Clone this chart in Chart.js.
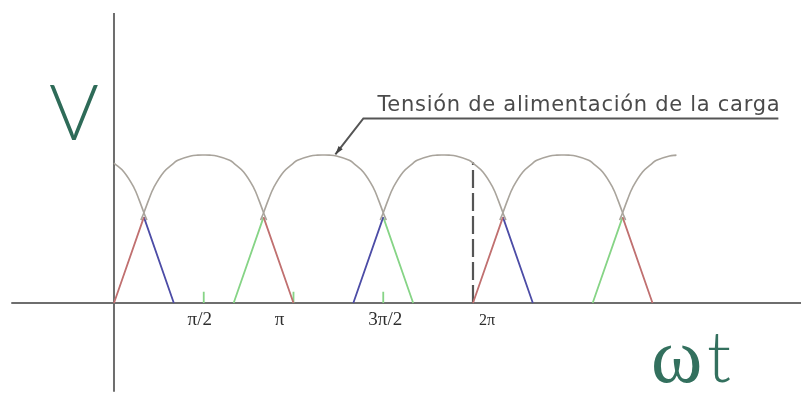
<!DOCTYPE html>
<html>
<head>
<meta charset="utf-8">
<script src="https://cdn.jsdelivr.net/npm/chart.js@4/dist/chart.umd.min.js"></script>
<style>
  html, body { margin: 0; padding: 0; background: #ffffff; }
  #wrap { width: 801px; height: 394px; }
</style>
</head>
<body>
<div id="wrap"><canvas id="c" width="801" height="394"></canvas></div>
<script>
// Angle axis in degrees (ωt), voltage normalised to the peak value.

// Supply arches (load supply voltage): centre of each arch and the span drawn.
const archCentres = [-30, 90, 210, 330, 450, 570];
const archFrom    = [0, 27, 147, 267, 387, 507];
const archTo      = [33, 153, 273, 393, 513, 564];
// Arch outline: offsets from the centre (deg) and level (fraction of peak).
const archOffsets = [-63, -60, -55, -50, -40, -30, -26, -13, -6, 0, 6, 13, 26, 30, 40, 50, 55, 60, 63];
const archLevels  = [0.56, 0.61, 0.70, 0.78, 0.885, 0.945, 0.965, 0.993, 0.999, 1.0, 0.999, 0.993, 0.965, 0.945, 0.885, 0.78, 0.70, 0.61, 0.56];

// Phase ramps: [x0, y0, x1, y1]
const redRamps   = [[0, 0, 30, 0.58], [150, 0.58, 180, 0], [360, 0, 390, 0.58], [510, 0.58, 540, 0]];
const blueRamps  = [[30, 0.58, 60, 0], [240, 0, 270, 0.58], [390, 0.58, 420, 0]];
const greenRamps = [[120, 0, 150, 0.58], [270, 0.58, 300, 0], [480, 0, 510, 0.58]];
// Small green marks on the axis
const markAngles = [90, 180, 270];
const markHeight = 0.075;

// Dashed marker at 2π
const periodAngle = 360;
const periodLevel = 0.95;

// Tick labels along ωt
const tickAngles = [90, 180, 270, 360];
const tickLabels = ['π/2', 'π', '3π/2', '2π'];

// Annotation
const noteText = 'Tensión de alimentación de la carga';
const notePoint = [222, 0.99];

// ---- build datasets ----
function segmentsToData(segs) {
  const out = [];
  segs.forEach(s => { out.push({x: s[0], y: s[1]}, {x: s[2], y: s[3]}, {x: NaN, y: null}); });
  return out;
}

const datasets = [];
archCentres.forEach((c, i) => {
  const pts = [];
  archOffsets.forEach((o, k) => {
    const x = c + o;
    if (x >= archFrom[i] - 0.01 && x <= archTo[i] + 0.01) pts.push({x: x, y: archLevels[k]});
  });
  datasets.push({
    data: pts, borderColor: '#a9a49c', borderWidth: 1.6,
    tension: 0.4, pointRadius: 0, showLine: true, fill: false
  });
});

const rampStyle = {pointRadius: 0, showLine: true, borderWidth: 1.8, spanGaps: false, fill: false};
datasets.push(Object.assign({data: segmentsToData(redRamps), borderColor: '#c07070'}, rampStyle));
datasets.push(Object.assign({data: segmentsToData(blueRamps), borderColor: '#4c4ca6'}, rampStyle));
datasets.push(Object.assign({data: segmentsToData(greenRamps), borderColor: '#86d486'}, rampStyle));
datasets.push(Object.assign({data: segmentsToData(markAngles.map(a => [a, 0, a, markHeight])), borderColor: '#86d486'}, rampStyle));
datasets.push({
  data: [{x: periodAngle, y: 0}, {x: periodAngle, y: periodLevel}],
  borderColor: '#555555', borderWidth: 2.2, borderDash: [18, 5],
  pointRadius: 0, showLine: true, fill: false
});

// ---- axes, labels and annotation ----
const decorations = {
  id: 'decorations',
  beforeDatasetsDraw(chart) {
    const {ctx, scales: {x, y}} = chart;
    ctx.save();
    ctx.strokeStyle = '#6e6e6e';
    ctx.lineWidth = 2;
    ctx.beginPath();
    ctx.moveTo(x.getPixelForValue(-103), y.getPixelForValue(0));
    ctx.lineTo(x.getPixelForValue(x.max), y.getPixelForValue(0));
    ctx.moveTo(x.getPixelForValue(0), y.getPixelForValue(1.96));
    ctx.lineTo(x.getPixelForValue(0), y.getPixelForValue(-0.6));
    ctx.stroke();
    ctx.restore();
  },
  afterDatasetsDraw(chart) {
    const {ctx, scales: {x, y}} = chart;
    ctx.save();
    // tick labels
    const shifts = [-4, -14, 2, 14];
    ctx.fillStyle = '#2e2e2e';
    ctx.textAlign = 'center';
    ctx.textBaseline = 'alphabetic';
    tickAngles.forEach((a, i) => {
      ctx.font = (i === 3 ? '16px' : '19px') + ' "Liberation Serif", serif';
      ctx.fillText(tickLabels[i], x.getPixelForValue(a) + shifts[i], y.getPixelForValue(0) + 22);
    });
    // axis names
    ctx.fillStyle = '#2e6b58';
    ctx.textAlign = 'left';
    ctx.font = '300 76px Lato, "Liberation Sans", sans-serif';
    ctx.fillText('V', 49, 140);
    ctx.fillStyle = '#33705e';
    ctx.font = '78px "Liberation Serif", serif';
    ctx.fillText('ω', 651, 382);
    ctx.font = '300 70px Lato, "Liberation Sans", sans-serif';
    ctx.fillText('t', 707, 382);
    // annotation with leader and arrow
    const tipX = x.getPixelForValue(notePoint[0]);
    const tipY = y.getPixelForValue(notePoint[1]) - 2;
    const elbowX = tipX + 28, elbowY = tipY - 36;
    const textX = elbowX + 14;
    ctx.fillStyle = '#4a4a4a';
    ctx.font = '21px "DejaVu Sans", sans-serif';
    const natural = ctx.measureText(noteText).width;
    ctx.letterSpacing = ((403 - natural) / noteText.length).toFixed(2) + 'px';
    ctx.fillText(noteText, textX, elbowY - 7);
    ctx.letterSpacing = '0px';
    ctx.strokeStyle = '#555555';
    ctx.lineWidth = 2;
    ctx.beginPath();
    ctx.moveTo(textX + 401, elbowY);
    ctx.lineTo(elbowX, elbowY);
    ctx.lineTo(tipX, tipY);
    ctx.stroke();
    const ang = Math.atan2(tipY - elbowY, tipX - elbowX);
    ctx.fillStyle = '#444444';
    ctx.beginPath();
    ctx.moveTo(tipX, tipY);
    ctx.lineTo(tipX - 9 * Math.cos(ang - 0.3), tipY - 9 * Math.sin(ang - 0.3));
    ctx.lineTo(tipX - 9 * Math.cos(ang + 0.3), tipY - 9 * Math.sin(ang + 0.3));
    ctx.closePath();
    ctx.fill();
    ctx.restore();
  }
};

new Chart(document.getElementById('c'), {
  type: 'scatter',
  data: {datasets: datasets},
  options: {
    responsive: false,
    animation: false,
    devicePixelRatio: 1,
    layout: {padding: 0},
    plugins: {legend: {display: false}, tooltip: {enabled: false}},
    scales: {
      x: {type: 'linear', display: false, min: -114.3, max: 688.9},
      y: {type: 'linear', display: false, min: -0.615, max: 2.047}
    }
  },
  plugins: [decorations]
});
</script>
</body>
</html>
